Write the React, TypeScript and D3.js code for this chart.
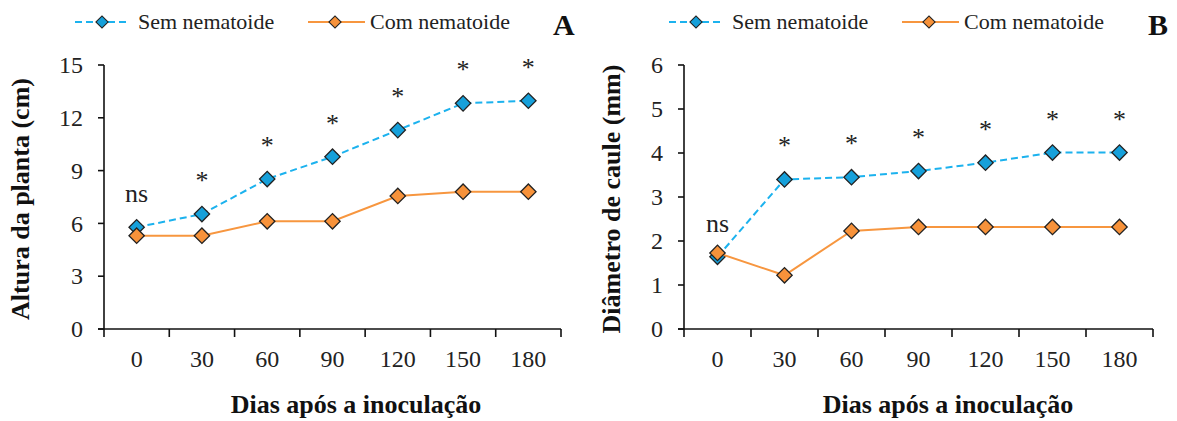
import React from "react";
import * as d3 from "d3";

// Data
const DAYS = ["0", "30", "60", "90", "120", "150", "180"];
const NOTES = ["ns", "*", "*", "*", "*", "*", "*"];

const HEIGHT_SEM = [5.78, 6.53, 8.52, 9.79, 11.3, 12.82, 12.97];
const HEIGHT_COM = [5.3, 5.3, 6.12, 6.12, 7.56, 7.8, 7.8];
const HEIGHT_TICKS = [0, 3, 6, 9, 12, 15];

const DIAM_SEM = [1.64, 3.4, 3.45, 3.59, 3.78, 4.01, 4.01];
const DIAM_COM = [1.73, 1.22, 2.23, 2.32, 2.32, 2.32, 2.32];
const DIAM_TICKS = [0, 1, 2, 3, 4, 5, 6];

const SERIES_NAMES = ["Sem nematoide", "Com nematoide"];

// Styling
const FONT = "'Liberation Serif', 'Times New Roman', serif";
const BLUE_LINE = "#1CB2EE";
const BLUE_FILL = "#16A0DA";
const ORANGE_LINE = "#F7963F";
const ORANGE_FILL = "#F7923A";
const MARKER_STROKE = "#222";

const Y_TOP = 65;
const Y_BOTTOM = 329;

function diamond(area: number) {
  return d3.symbol(d3.symbolSquare, area)() || "";
}

type PanelProps = {
  letter: string;
  x0: number;
  x1: number;
  legendDx: number;
  yMax: number;
  yTicks: number[];
  sem: number[];
  com: number[];
  yTitle: string;
  yTitleX: number;
  xTitleX: number;
  letterX: number;
};

function Panel(p: PanelProps) {
  const x = d3.scaleBand<string>().domain(DAYS).range([p.x0, p.x1]).padding(0);
  const y = d3.scaleLinear().domain([0, p.yMax]).range([Y_BOTTOM, Y_TOP]);
  const cx = (i: number) => (x(DAYS[i]) as number) + x.bandwidth() / 2;
  const line = d3
    .line<number>()
    .x((_, i) => cx(i))
    .y((d) => y(d));
  const bigDiamond = diamond(118);
  const smallDiamond = diamond(74);
  const boundaries = [...DAYS.map((d) => x(d) as number), p.x1];

  const series = [
    { values: p.sem, stroke: BLUE_LINE, fill: BLUE_FILL, dash: "7,4" },
    { values: p.com, stroke: ORANGE_LINE, fill: ORANGE_FILL, dash: undefined },
  ];

  // legend layout (relative to panel A)
  const L = p.legendDx;
  const legend = [
    { x1: 75 + L, x2: 128 + L, mx: 102 + L, tx: 138 + L, ...series[0], name: SERIES_NAMES[0] },
    { x1: 308 + L, x2: 365 + L, mx: 335 + L, tx: 370 + L, ...series[1], name: SERIES_NAMES[1] },
  ];

  return (
    <g>
      {/* legend */}
      {legend.map((l) => (
        <g key={l.name}>
          <line x1={l.x1} x2={l.x2} y1={22} y2={22} stroke={l.stroke} strokeWidth={2} strokeDasharray={l.dash} />
          <path d={smallDiamond} transform={`translate(${l.mx},22) rotate(45)`} fill={l.fill} stroke={MARKER_STROKE} strokeWidth={1.1} />
          <text x={l.tx} y={29} fontSize={22} fontFamily={FONT} fill="#222">
            {l.name}
          </text>
        </g>
      ))}
      <text x={p.letterX} y={35} fontSize={30} fontWeight="bold" fontFamily={FONT} fill="#111">
        {p.letter}
      </text>

      {/* axes */}
      <line x1={p.x0} x2={p.x0} y1={Y_TOP} y2={Y_BOTTOM} stroke="#111" strokeWidth={1.6} />
      <line x1={p.x0 - 6} x2={p.x1} y1={Y_BOTTOM} y2={Y_BOTTOM} stroke="#111" strokeWidth={1.6} />
      {p.yTicks.map((t) => (
        <g key={t}>
          <line x1={p.x0 - 6} x2={p.x0} y1={y(t)} y2={y(t)} stroke="#111" strokeWidth={1.6} />
          <text x={p.x0 - 21} y={y(t)} dy="0.34em" textAnchor="end" fontSize={24} fontFamily={FONT} fill="#222">
            {t}
          </text>
        </g>
      ))}
      {boundaries.map((b, i) => (
        <line key={i} x1={b} x2={b} y1={Y_BOTTOM} y2={Y_BOTTOM + 8} stroke="#111" strokeWidth={1.6} />
      ))}
      {DAYS.map((d, i) => (
        <text key={d} x={cx(i)} y={367} textAnchor="middle" fontSize={24} fontFamily={FONT} fill="#222">
          {d}
        </text>
      ))}

      {/* titles */}
      <text x={p.xTitleX} y={413} textAnchor="middle" fontSize={26} fontWeight="bold" fontFamily={FONT} fill="#111">
        Dias após a inoculação
      </text>
      <text
        transform={`translate(${p.yTitleX},199) rotate(-90)`}
        textAnchor="middle"
        fontSize={26}
        fontWeight="bold"
        fontFamily={FONT}
        fill="#111"
      >
        {p.yTitle}
      </text>

      {/* series */}
      {series.map((s, k) => (
        <g key={k}>
          <path d={line(s.values) || ""} fill="none" stroke={s.stroke} strokeWidth={2} strokeDasharray={s.dash} />
          {s.values.map((v, i) => (
            <path
              key={i}
              d={bigDiamond}
              transform={`translate(${cx(i)},${y(v)}) rotate(45)`}
              fill={s.fill}
              stroke={MARKER_STROKE}
              strokeWidth={1.3}
            />
          ))}
        </g>
      ))}

      {/* significance */}
      {NOTES.map((n, i) => (
        <text key={i} x={cx(i)} y={y(p.sem[i]) - 25} textAnchor="middle" fontSize={26} fontFamily={FONT} fill="#222">
          {n}
        </text>
      ))}
    </g>
  );
}

export default function App() {
  return (
    <svg
      width={1177}
      height={421}
      style={{ position: "absolute", left: 0, top: 0, background: "#fff" }}
    >
      <Panel
        letter="A"
        x0={104}
        x1={561}
        legendDx={0}
        yMax={15}
        yTicks={HEIGHT_TICKS}
        sem={HEIGHT_SEM}
        com={HEIGHT_COM}
        yTitle="Altura da planta (cm)"
        yTitleX={29}
        xTitleX={356}
        letterX={553}
      />
      <Panel
        letter="B"
        x0={684}
        x1={1153}
        legendDx={594}
        yMax={6}
        yTicks={DIAM_TICKS}
        sem={DIAM_SEM}
        com={DIAM_COM}
        yTitle="Diâmetro de caule (mm)"
        yTitleX={620}
        xTitleX={948}
        letterX={1148}
      />
    </svg>
  );
}
